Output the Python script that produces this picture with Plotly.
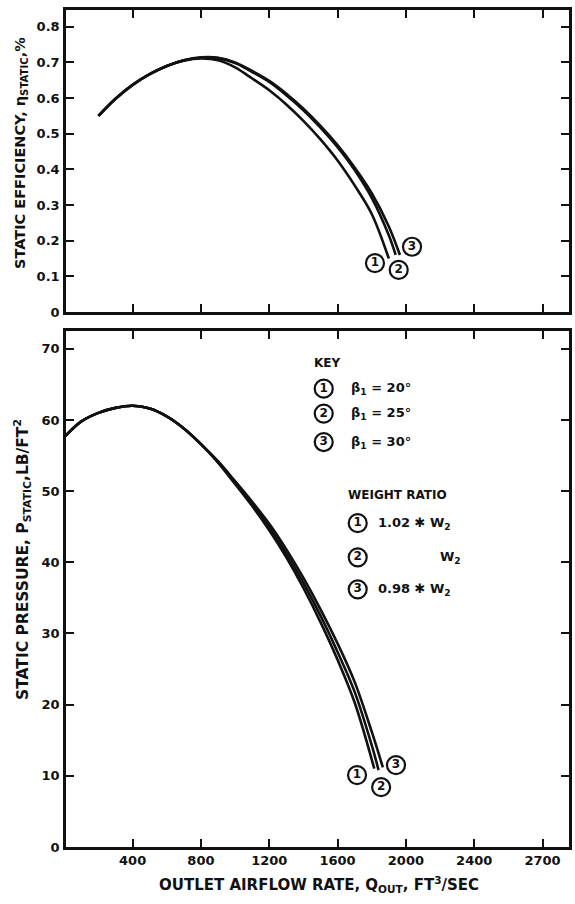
import plotly.graph_objects as go

# ---------------- data ----------------
# Top panel: static efficiency vs outlet airflow
eff_x1 = [200, 300, 400, 500, 600, 700, 800, 900, 1000, 1100, 1200, 1300, 1400, 1500, 1600, 1700, 1800, 1900]
eff_y1 = [0.550, 0.598, 0.637, 0.667, 0.690, 0.705, 0.711, 0.706, 0.686, 0.655, 0.622, 0.582, 0.536, 0.484, 0.425, 0.355, 0.275, 0.150]
eff_x2 = [200, 300, 400, 500, 600, 700, 800, 900, 1000, 1100, 1200, 1300, 1400, 1500, 1600, 1700, 1800, 1900, 1940]
eff_y2 = [0.550, 0.598, 0.637, 0.667, 0.690, 0.706, 0.713, 0.712, 0.698, 0.673, 0.645, 0.608, 0.566, 0.517, 0.462, 0.398, 0.320, 0.215, 0.160]
eff_x3 = [200, 300, 400, 500, 600, 700, 800, 900, 1000, 1100, 1200, 1300, 1400, 1500, 1600, 1700, 1800, 1900, 1965]
eff_y3 = [0.550, 0.598, 0.637, 0.667, 0.690, 0.706, 0.714, 0.713, 0.700, 0.676, 0.648, 0.612, 0.570, 0.522, 0.468, 0.405, 0.333, 0.240, 0.160]

# Bottom panel: static pressure vs outlet airflow
prs_x1 = [0, 100, 200, 300, 400, 500, 600, 700, 800, 900, 1000, 1100, 1200, 1300, 1400, 1500, 1600, 1700, 1815]
prs_y1 = [57.6, 59.8, 61.0, 61.7, 62.0, 61.6, 60.5, 58.8, 56.6, 54.0, 51.0, 47.9, 44.5, 40.7, 36.4, 31.6, 26.3, 20.3, 11.0]
prs_x2 = [0, 100, 200, 300, 400, 500, 600, 700, 800, 900, 1000, 1100, 1200, 1300, 1400, 1500, 1600, 1700, 1800, 1840]
prs_y2 = [57.6, 59.8, 61.0, 61.7, 62.0, 61.6, 60.5, 58.8, 56.6, 54.1, 51.2, 48.2, 44.9, 41.2, 37.1, 32.5, 27.4, 21.8, 14.3, 10.8]
prs_x3 = [0, 100, 200, 300, 400, 500, 600, 700, 800, 900, 1000, 1100, 1200, 1300, 1400, 1500, 1600, 1700, 1800, 1865]
prs_y3 = [57.6, 59.8, 61.0, 61.7, 62.0, 61.6, 60.5, 58.8, 56.6, 54.2, 51.4, 48.5, 45.4, 41.8, 37.8, 33.4, 28.6, 23.2, 16.2, 11.2]

curve_ids = ["1", "2", "3"]
eff_lab_x = [1819, 1958, 2036]
eff_lab_y = [0.137, 0.118, 0.183]
prs_lab_x = [1714, 1855, 1942]
prs_lab_y = [10.1, 8.4, 11.5]

key_beta = ["β<sub>1</sub> = 20°", "β<sub>1</sub> = 25°", "β<sub>1</sub> = 30°"]
key_weight = ["1.02 ✱ W<sub>2</sub>", "W<sub>2</sub>", "0.98 ✱ W<sub>2</sub>"]

x_tickvals = [400, 800, 1200, 1600, 2000, 2400, 2800]
x_ticktext = ["400", "800", "1200", "1600", "2000", "2400", "2700"]
eff_tickvals = [0, 0.1, 0.2, 0.3, 0.4, 0.5, 0.6, 0.7, 0.8]
eff_ticktext = ["0", "0.1", "0.2", "0.3", "0.4", "0.5", "0.6", "0.7", "0.8"]
prs_tickvals = [0, 10, 20, 30, 40, 50, 60, 70]

FONT = "DejaVu Sans, Liberation Sans, sans-serif"
BLACK = "#111111"

fig = go.Figure()

for xs, ys in [(eff_x1, eff_y1), (eff_x2, eff_y2), (eff_x3, eff_y3)]:
    fig.add_trace(go.Scatter(x=xs, y=ys, mode="lines", line=dict(color=BLACK, width=2.6, shape="spline"),
                             xaxis="x", yaxis="y", showlegend=False, hoverinfo="skip"))
for xs, ys in [(prs_x1, prs_y1), (prs_x2, prs_y2), (prs_x3, prs_y3)]:
    fig.add_trace(go.Scatter(x=xs, y=ys, mode="lines", line=dict(color=BLACK, width=2.6, shape="spline"),
                             xaxis="x2", yaxis="y2", showlegend=False, hoverinfo="skip"))

def circled(xs, ys, labels, xa, ya):
    fig.add_trace(go.Scatter(
        x=xs, y=ys, mode="markers+text", text=labels, textposition="middle center",
        textfont=dict(family=FONT, size=12, color=BLACK, weight="bold"),
        marker=dict(symbol="circle-open", size=18, color=BLACK, line=dict(width=2.2, color=BLACK)),
        xaxis=xa, yaxis=ya, showlegend=False, hoverinfo="skip"))

circled(eff_lab_x, eff_lab_y, curve_ids, "x", "y")
circled(prs_lab_x, prs_lab_y, curve_ids, "x2", "y2")

# key circles (bottom panel data coordinates)
circled([1519, 1519, 1519], [64.4, 60.9, 56.9], curve_ids, "x2", "y2")
circled([1718, 1718, 1718], [45.5, 40.7, 36.2], curve_ids, "x2", "y2")

ann = []
def txt(x, y, t, size=12, xref="x2", yref="y2", xanchor="left", angle=0):
    ann.append(dict(x=x, y=y, xref=xref, yref=yref, text=t, showarrow=False, xanchor=xanchor,
                    yanchor="middle", textangle=angle, borderpad=0,
                    font=dict(family=FONT, size=size, color=BLACK, weight="bold")))

txt(1455, 68.0, "KEY", 12)
for yv, t in zip([64.4, 60.9, 56.9], key_beta):
    txt(1672, yv, t, 13)
txt(1655, 49.5, "WEIGHT RATIO", 12)
txt(1830, 45.5, key_weight[0], 13)
txt(2196, 40.7, key_weight[1], 13)
txt(1832, 36.2, key_weight[2], 13)

# axis titles as annotations (paper coords, computed from pixel positions)
L, R, T, B = 66, 6, 10, 57
W, H = 575 - L - R, 904 - T - B
def px(xp):
    return (xp - L) / W
def py(yp):
    return (904 - B - yp) / H

txt(px(21), py(153), "STATIC EFFICIENCY, η<sub>STATIC</sub>,%", 14.5, "paper", "paper", "center", -90)
txt(px(22), py(560), "STATIC PRESSURE, P<sub>STATIC</sub>,LB/FT<sup>2</sup>", 15.5, "paper", "paper", "center", -90)
txt(px(319), py(884), "OUTLET AIRFLOW RATE, Q<sub>OUT</sub>, FT<sup>3</sup>/SEC", 15, "paper", "paper", "center")

axis_common = dict(showline=True, linecolor=BLACK, linewidth=2.5, mirror="ticks", ticks="inside",
                   ticklen=8, tickwidth=2, tickcolor=BLACK, showgrid=False, zeroline=False,
                   automargin=False,
                   tickfont=dict(family=FONT, size=13, color=BLACK, weight="bold"))

top_bottom = py(312)
bot_top = py(331)

fig.update_layout(
    width=575, height=904,
    margin=dict(l=L, r=R, t=T, b=B),
    paper_bgcolor="white", plot_bgcolor="white",
    showlegend=False,
    xaxis=dict(domain=[0, 1], range=[10, 2955], anchor="y", tickvals=x_tickvals, showticklabels=False, **axis_common),
    yaxis=dict(domain=[top_bottom, 1], range=[0, 0.847], anchor="x", tickvals=eff_tickvals, ticktext=eff_ticktext,
               ticklabelstandoff=1, **axis_common),
    xaxis2=dict(domain=[0, 1], range=[10, 2955], anchor="y2", tickvals=x_tickvals, ticktext=x_ticktext, **axis_common),
    yaxis2=dict(domain=[0, bot_top], range=[0, 72.5], anchor="x2", tickvals=prs_tickvals,
                ticklabelstandoff=1, **axis_common),
    annotations=ann,
)

fig.write_html("out.html", config={"displayModeBar": False},
               post_script="document.body.style.margin='0';document.body.style.overflow='hidden';")
